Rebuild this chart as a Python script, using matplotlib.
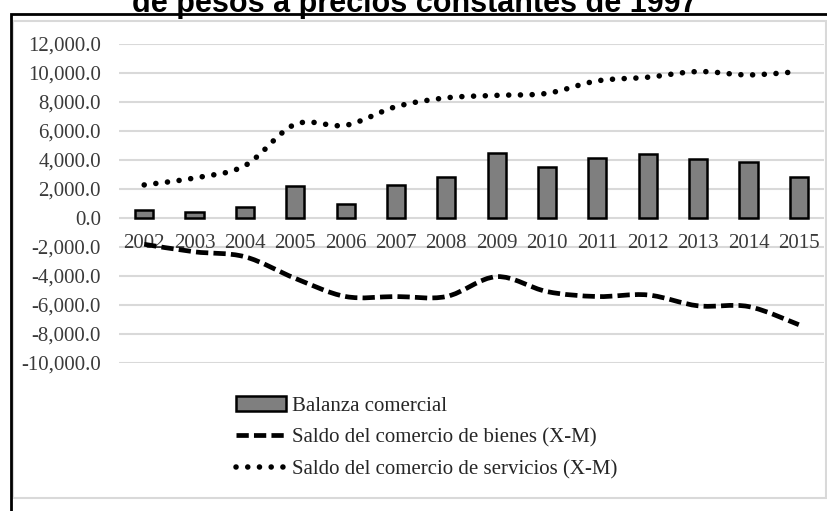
import matplotlib
matplotlib.use('Agg')
import matplotlib.pyplot as plt
import numpy as np
from matplotlib.path import Path
from matplotlib.patches import PathPatch, Rectangle, Patch
from matplotlib.lines import Line2D
from matplotlib.ticker import FuncFormatter

# millones de pesos a precios constantes de 1997
years = [2002, 2003, 2004, 2005, 2006, 2007, 2008, 2009,
         2010, 2011, 2012, 2013, 2014, 2015]
balanza = [560, 400, 740, 2200, 970, 2230, 2840, 4470,
           3530, 4140, 4400, 4080, 3870, 2800]
saldo_bienes = [-1820, -2340, -2680, -4170, -5420, -5420, -5420, -4050,
                -5080, -5420, -5310, -6060, -6110, -7360]
saldo_servicios = [2270, 2750, 3600, 6450, 6380, 7660, 8270, 8440,
                   8580, 9440, 9690, 10080, 9850, 10080]

labels = ['Balanza comercial',
          'Saldo del comercio de bienes (X-M)',
          'Saldo del comercio de servicios (X-M)']

title = 'de pesos a precios constantes de 1997'

serif = 'Liberation Serif'
txt_color = '#3a3a3a'

W, H = 827, 511


def smooth_path(xs, ys):
    # bezier segments through every point (same smoothing as a spreadsheet line)
    pts = np.column_stack([xs, ys]).astype(float)
    n = len(pts)
    verts = [pts[0]]
    codes = [Path.MOVETO]
    for i in range(n - 1):
        p0 = pts[max(i - 1, 0)]
        p1 = pts[i]
        p2 = pts[i + 1]
        p3 = pts[min(i + 2, n - 1)]
        verts += [p1 + (p2 - p0) / 6, p2 - (p3 - p1) / 6, p2]
        codes += [Path.CURVE4] * 3
    return Path(verts, codes)


fig = plt.figure(figsize=(W / 100, H / 100), dpi=100)

left, right, top, bottom = 119, 824, 43.7, 363
ax = fig.add_axes([left / W, 1 - bottom / H, (right - left) / W, (bottom - top) / H])

x = np.arange(len(years))
ax.bar(x, balanza, width=0.36, color='#7f7f7f', edgecolor='black',
       linewidth=1.8, zorder=3)

dash_lw, dot_lw = 3.4, 4.0
dash_style = (0, (2.6, 1.1))
dot_style = (0, (0.01, 2.1))

ax.add_patch(PathPatch(smooth_path(x, saldo_bienes), fill=False, edgecolor='black',
                       linewidth=dash_lw, linestyle=dash_style, capstyle='butt', zorder=4))
ax.add_patch(PathPatch(smooth_path(x, saldo_servicios), fill=False, edgecolor='black',
                       linewidth=dot_lw, linestyle=dot_style, capstyle='round', zorder=4))

ax.set_xlim(-0.5, len(years) - 0.5)
ax.set_ylim(-10000, 12000)
ax.set_yticks(np.arange(-10000, 12001, 2000))
ax.yaxis.set_major_formatter(FuncFormatter(lambda v, p: f'{v:,.1f}'))
ax.set_xticks([])
ax.tick_params(axis='y', length=0, pad=13, labelsize=15, labelcolor=txt_color)
for lab in ax.get_yticklabels():
    lab.set_fontfamily(serif)
ax.yaxis.grid(True, color='#d9d9d9', linewidth=1.5)
ax.set_axisbelow(True)
for s in ax.spines.values():
    s.set_visible(False)

# year labels sit just under the zero line
for xi, yr in zip(x, years):
    ax.text(xi, -1750, str(yr), ha='center', va='center', fontsize=15,
            family=serif, color=txt_color, zorder=2)

handles = [Patch(facecolor='#7f7f7f', edgecolor='black', linewidth=1.8),
           Line2D([], [], color='black', linewidth=dash_lw, linestyle=dash_style,
                  dash_capstyle='butt'),
           Line2D([], [], color='black', linewidth=dot_lw, linestyle=dot_style,
                  dash_capstyle='round')]
fig.legend(handles, labels, loc='upper left', bbox_to_anchor=(236 / W, 1 - 396 / H),
           frameon=False, prop={'family': serif, 'size': 15}, labelcolor='#262626',
           handlelength=2.4, handletextpad=0.3, labelspacing=0.6,
           borderpad=0, borderaxespad=0)

# chart frame
fig.add_artist(Rectangle((13 / W, 1 - 498 / H), (826 - 13) / W, (498 - 21) / H,
                         transform=fig.transFigure, fill=False,
                         edgecolor='#d9d9d9', linewidth=1.5))
fig.add_artist(Rectangle((11 / W, -0.1), 2, 1.1 - 14 / H,
                         transform=fig.transFigure, fill=False,
                         edgecolor='black', linewidth=2))

fig.text(415 / W, 1 - 12 / H, title, ha='center', va='baseline', fontsize=22,
         fontweight='bold', family='Liberation Sans', color='black')

fig.savefig('out.png', dpi=100)
